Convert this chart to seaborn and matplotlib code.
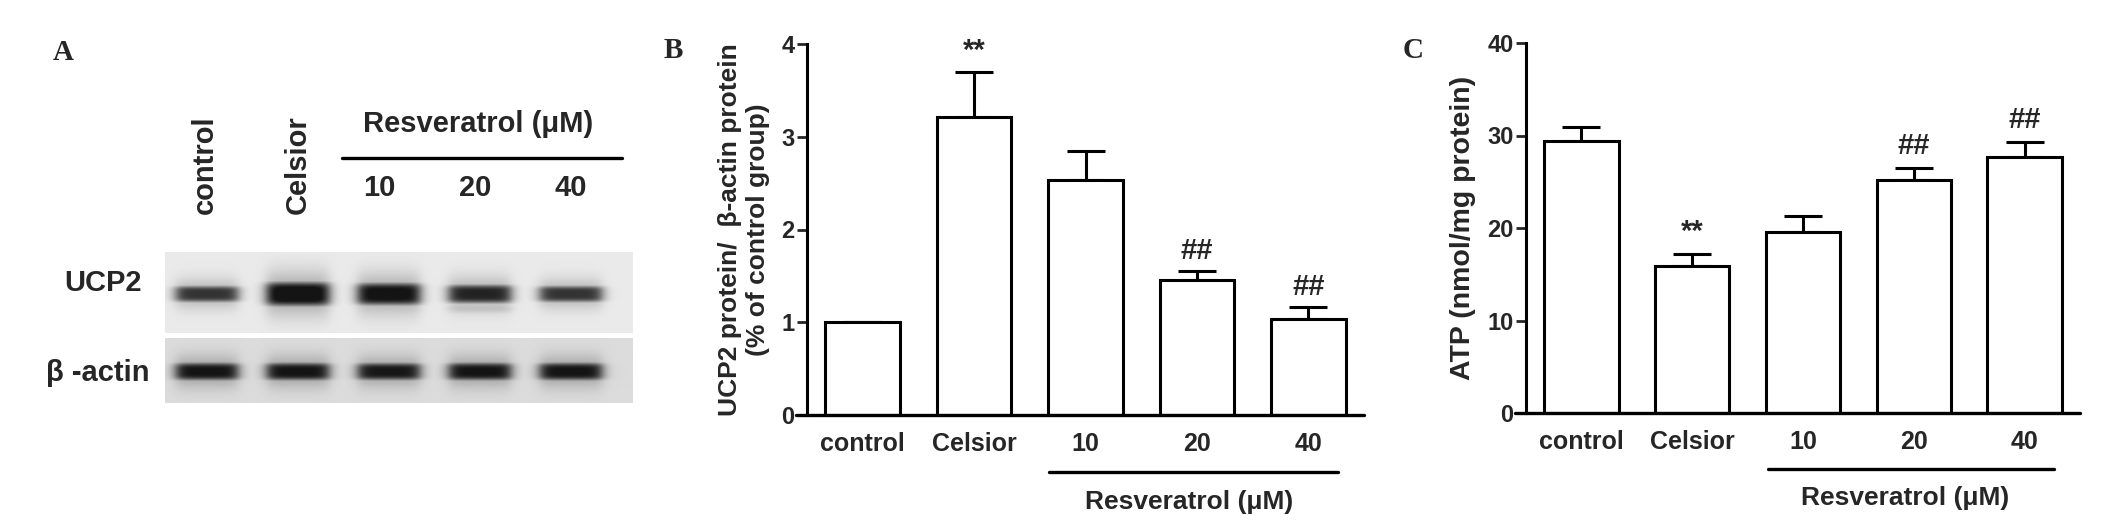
import numpy as np
import pandas as pd
import seaborn as sns
import matplotlib.pyplot as plt
from matplotlib.lines import Line2D

# data
groups = ['control', 'Celsior', '10', '20', '40']
ucp2_ratio = [1.0, 3.21, 2.53, 1.46, 1.03]
ucp2_sem = [0.0, 0.49, 0.32, 0.09, 0.13]
ucp2_marks = ['', '**', '', '##', '##']
atp = [29.4, 15.9, 19.6, 25.2, 27.7]
atp_sem = [1.5, 1.3, 1.7, 1.3, 1.6]
atp_marks = ['', '**', '', '##', '##']

# western blot band densities (0..1) per lane
ucp2_band = [0.78, 1.0, 0.95, 0.85, 0.78]
ucp2_smear = [0.0, 0.0, 0.0, 0.18, 0.0]
actin_band = [0.92, 0.92, 0.9, 0.92, 0.92]

sns.set_style('white')
plt.rcParams['font.family'] = ['Liberation Sans', 'DejaVu Sans']
plt.rcParams['font.weight'] = 'bold'

W, H = 2126, 528
fig = plt.figure(figsize=(W / 100, H / 100), dpi=100)


def fx(x):
    return x / W


def fy(y):
    return 1 - y / H


def ftext(x, y, s, size, **kw):
    fig.text(fx(x), fy(y), s, ha='center', va='center', fontsize=size,
             fontweight='bold', **kw)


def fline(x0, x1, y, lw=2.4):
    fig.add_artist(Line2D([fx(x0), fx(x1)], [fy(y), fy(y)],
                          transform=fig.transFigure, color='black', lw=lw))


# ---------------- panel A : blot ----------------
ftext(63, 52, 'A', 21, family=['Liberation Serif', 'DejaVu Serif'])
ftext(205, 165, 'control', 21, rotation=90)
ftext(298, 165, 'Celsior', 21, rotation=90)
ftext(478, 124, 'Resveratrol (\u03bcM)', 21)
fline(342, 622, 158)
for i, g in enumerate(groups[2:]):
    ftext(379 + 96 * i, 188, g, 21)
ftext(103, 283, 'UCP2', 21)
ftext(98, 373, '\u03b2 -actin', 21)

x0, x1 = 165, 633
ax_blot = fig.add_axes([fx(x0), fy(403), (x1 - x0) / W, (403 - 252) / H])
xs = np.arange(x0, x1) + 0.5


def band_image(y_top, y_bot, bg, yc, dens, thick, power, extra=None):
    ys = np.arange(y_top, y_bot) + 0.5
    img = np.full((len(ys), len(xs)), bg)
    dark = np.zeros_like(img)
    for i, d in enumerate(dens):
        c = 207 + 91 * i
        hx = 1 / (1 + np.exp((np.abs(xs - c) - 31) / 3.5))
        t = thick * d ** power
        core = np.exp(-np.log(2) * (np.abs(ys - yc) / (t / 2)) ** 4)
        halo = 0.3 * np.exp(-((ys - yc) / t) ** 2)
        vy = np.maximum(core, halo)
        dark = np.maximum(dark, d * np.outer(vy, hx))
        if extra is not None and extra[i] > 0:
            vy2 = np.exp(-((ys - yc - 14) / 6.0) ** 2)
            dark = np.maximum(dark, extra[i] * np.outer(vy2, hx))
    img = bg - (bg - 0.08) * np.clip(dark * 1.1, 0, 1)
    return img


img1 = band_image(252, 333, 0.92, 294, ucp2_band, 22, 1.6, ucp2_smear)
img2 = band_image(339, 403, 0.86, 372, actin_band, 17, 1.0)
ax_blot.imshow(img1, cmap='gray', vmin=0, vmax=1, extent=(x0, x1, 333, 252),
               aspect='auto', interpolation='bilinear')
ax_blot.imshow(img2, cmap='gray', vmin=0, vmax=1, extent=(x0, x1, 403, 339),
               aspect='auto', interpolation='bilinear')
ax_blot.set_xlim(x0, x1)
ax_blot.set_ylim(403, 252)
ax_blot.axis('off')


# ---------------- bar panels ----------------
def bar_panel(rect, vals, errs, marks, ymax, step, ylabel, ylsize, mark_off):
    ax = fig.add_axes(rect)
    df = pd.DataFrame({'group': groups, 'value': vals})
    sns.barplot(data=df, x='group', y='value', ax=ax, color='white',
                edgecolor='black', linewidth=2.2, width=0.67, saturation=1,
                errorbar=None, zorder=3)
    e = np.array(errs)
    ax.errorbar(np.arange(len(vals)), vals, yerr=[np.zeros_like(e), e],
                fmt='none', ecolor='black', elinewidth=2.2, capsize=14,
                capthick=2.2, zorder=2)
    for i, m in enumerate(marks):
        if m:
            ax.text(i, vals[i] + errs[i] + mark_off, m, ha='center',
                    va='center', fontsize=21, fontweight='bold')
    ax.set_xlim(-0.5, 4.5)
    ax.set_ylim(0, ymax)
    ax.set_yticks(np.arange(0, ymax + step / 2, step))
    ax.set_yticklabels([str(int(v)) for v in np.arange(0, ymax + step / 2, step)])
    ax.set_xlabel('')
    ax.set_ylabel(ylabel, fontsize=ylsize, fontweight='bold', labelpad=8)
    for s in ['top', 'right', 'bottom']:
        ax.spines[s].set_visible(False)
    ax.spines['left'].set_linewidth(2.2)
    ax.spines['left'].set_color('black')
    ax.plot([-0.02, 1.0], [0, 0], transform=ax.transAxes, color='black',
            lw=2.4, clip_on=False, zorder=4)
    ax.tick_params(axis='y', direction='out', length=7, width=2,
                   labelsize=17, pad=2, left=True)
    ax.tick_params(axis='x', length=0, labelsize=18, pad=12)
    for t in ax.get_xticklabels() + ax.get_yticklabels():
        t.set_fontweight('bold')
    return ax


axB = bar_panel([fx(807), fy(415), 557 / W, 371 / H], ucp2_ratio, ucp2_sem,
                ucp2_marks, 4, 1,
                'UCP2 protein/  \u03b2-actin protein\n(% of control group)',
                19, 0.22)
axC = bar_panel([fx(1526), fy(413), 554 / W, 370 / H], atp, atp_sem,
                atp_marks, 40, 10, 'ATP (nmol/mg protein)', 20.5, 2.4)

ftext(673, 50, 'B', 21, family=['Liberation Serif', 'DejaVu Serif'])
ftext(1413, 50, 'C', 21, family=['Liberation Serif', 'DejaVu Serif'])

fline(1049, 1338, 472)
ftext(1189, 502, 'Resveratrol (\u03bcM)', 19)
fline(1768, 2054, 469)
ftext(1905, 498, 'Resveratrol (\u03bcM)', 19)

fig.savefig('out.png', dpi=100, facecolor='white')
